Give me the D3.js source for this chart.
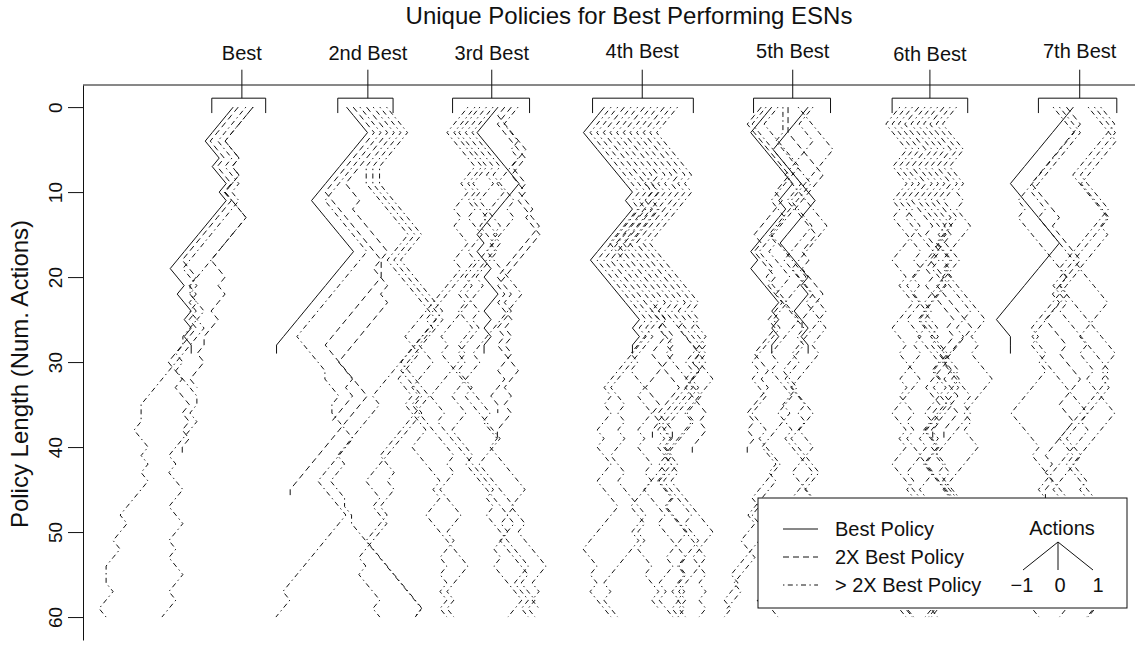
<!DOCTYPE html>
<html>
<head>
<meta charset="utf-8">
<script src="https://cdn.jsdelivr.net/npm/d3@7"></script>
<style>
  body { margin: 0; background: #fff; }
  svg { display: block; font-family: "Liberation Sans", Arial, Helvetica, sans-serif; }
</style>
</head>
<body>
<svg id="chart" width="1138" height="646"></svg>
<script>
// ---- data -------------------------------------------------------------
// Each policy: [start offset from group centre, policy class, action sequence]
// Actions: L = -1, S = 0, R = +1 (one action per step down the page).
const groupNames   = ["Best", "2nd Best", "3rd Best", "4th Best", "5th Best", "6th Best", "7th Best"];
const groupCenters = [22.7, 40.7, 58.4, 79.9, 101.4, 121.0, 142.4];
const bracketLeft  = [-4.3, -4.3, -5.6, -7.1, -5.6, -5.4, -5.9];
const bracketRight = [3.4, 3.6, 5.4, 7.3, 5.4, 5.4, 5.3];
const labelBaseline = [60, 60, 60, 58, 58, 61, 58];
const yTicks = [0, 10, 20, 30, 40, 50, 60];
const MAX_ACTIONS = 60;

const policiesBest = [
  [-1.24, "best",   "LLLL RR L RR L R LLLLLLLL RR L RR L R L R S"],
  [-0.52, "double", "LLLL RR L RR L R LLLLLLL RR L R L R L R LLLL RR L RR L R L R L S"],
  [ 1.6,  "double", "LLLL RR L R LL RRR LLLLL RR L R LL R LL S L R L L R"],
  [ 1.6,  "over",   "LLLL RR L R LL RRR LLLLLLLL S RR L R L LLLLLLLL SS L RR L R L R LLLL R LL R LL SS R LL R"],
  [ 0.57, "over",   "LLLL RR L RR L R LLLLLLLL RR L R L R LL S L R L RRR S L R LL L L R L RR LL RR LL R L RR LL R LL"]
];
const policies2nd = [
  [-3.05, "best",   "RRR LLLLLLLL RRRRRR LLLLLLLLLLL S"],
  [-2.1,  "double", "RRR LLLLLLL RRRRRRRR SS LLLLLLLL RRRRRR LLLLLLLLLLL S"],
  [-1.14, "over",   "RRR LLLLLLLL RRRRRR LLLLLLLLLL RRRR S RR L S RRR LLLLL RRRR LLLLLLLLL R LL"],
  [-0.19, "double", "RRR LLLLLL RR L RRRRR LL RR L R LLLLLLL RR L R LLL"],
  [ 0.76, "over",   "RRR LLLL SS RRRRRR LLL RRRRRRR LLLLL RRRR LLLLLLL RR L R LL R LLL RRRRRRRR L"],
  [ 1.71, "over",   "RRR LLLL SS RRRRRR LLL RRRRRRR LLLLLL RRR L R LLLLLLLL RR L RR LLLL R L RRR L R"],
  [ 2.67, "over",   "RRR LLLL SS RRRRRR LLL RRRRRR LLLLLLLLLL R L LLLLL R L L R R S R S R RRRRRRRRR L"]
];
const policies3rd = [
  [ 0.9,  "best",   "LLL RRRRRR LLLLLL R L RR L RR L L R L R L S"],
  [ 1.86, "double", "L RRRR LL RR L RR L RR LLLLLL R L RR L R L R L L R LL R S"],
  [ 2.8,  "double", "LL RRRR LL RR L RRR LLLLLL RR L R LL R L R RR L L R L R L L S"],
  [-3.4,  "over",   "LLL RRRR LL R LL R L RR LL R LL LLLL LL RR LLL RR L RRR LL RRRR L R LL RRRR RR LLL R L R"],
  [-2.4,  "over",   "LLL RRRR LL R L R L RR LL R L LLLLLL R LL RR LLL R L RRRRRR L R LL RRR L L R LL R L R L R L R"],
  [-1.7,  "over",   "LLL RRRR L L R L RR L RR L R RRRR LLLLLL L R L LLL RR LL RRR L RRRRRR L R LL R L RRRR LL"],
  [-0.76, "over",   "LLL RRRR L R LL RR R L R LLLLLL R L RR LL R LLLLL RR L RRRRRRRR L R L RRRRRR LL RR L R"],
  [ 0.19, "over",   "LLL RRRR L RRR L R LLLLLL L R L RR L R LLL R L RR L RRRRR LLL RRRRR L R LL RRRR L RR L R"],
  [ 3.76, "over",   "LL RR L R L LL R L LL RR L R L L L R L LLLLL R L RRRRRRR L RR L R RRRR LL RR L RRRR L L R L R"]
];
const policies4th = [
  [-5.4,  "best",   "LLL RRRRRRR L R L LLLLL RRRRRRR L R L S"],
  [-4.45, "over",   "LLL RRRRRRR L R L LLLLL RRRRRRR L R LLLLLL R L R LL R L RR LL R RR LLLLL RR L R L RRR"],
  [-3.5,  "over",   "LLL RRRRRRR L R L LLLLL RRRRRRR L R LLLLLL RR L R L R LL RR L RRRR LL R L LLLL R L RR"],
  [-2.55, "double", "LLL RRRRRRR L R L LLLLL RRRRRRR RR L R LLLL RR L R L S"],
  [-1.6,  "over",   "LLL RRRRRRR L R L LLLLL RRRRRRR L RR L R RRRR LL R L LLLL R L RR L R RR LLL R LL R L RR"],
  [-0.65, "over",   "LLL RRRRR L R LLLLLL RRRRRRR L R LLLL R L RR L RR LL R L RR L R LLL RR L R L R R L RR L R"],
  [ 0.3,  "double", "LLL RRRRR L R LLLLLL RRRRRRR L R L R LL RRRR LLL RR S"],
  [ 1.25, "over",   "LLL RRRRR L R LLLLLL RRRRRRR L R RRRR L R LLLLLL RR L R L LLL R RR L RRRR L R LL R L R"],
  [ 2.2,  "over",   "LLL RRRRR L R LLLLLL RRRRRRR L R RRR LL R L R LLLLL R L RR LL RR L RRRRR L R L LL R L R"],
  [ 3.15, "double", "LLL RRRRR L R LLLLLL RRRRRRR L R L R RR L R LL RRR L R LL S"],
  [ 4.1,  "over",   "LLL RRRRR L R LLLLLL RRRRRRR L R RR L R L RR LLLL R L LLL RR L R RRRRR LL R L R L R L R L"],
  [ 5.05, "over",   "LLL RRRRR L R LLLLLL RRRRRRR L R L R R L R LL R L LLLL R L RR LL RRRR L RR LLL R L R L R L"]
];
const policies5th = [
  [-3.0,  "best",   "LLL RRRRRR LL R LLLLL R L RRRR L R L R L S"],
  [ 2.2,  "best",   "LLLLL RRRRRR LLLLL RRRR L R L L R R L R S"],
  [-4.5,  "double", "LL RRRRRR LL R LLLL R L RR R L RR L L R L LL RR L R L LL R L R L S"],
  [-3.8,  "over",   "LL RRRRRRR L L R LLLLL R R L R R R L L R L L L L R L R R L L R R L R R R L L L L R L R R L L L L L R L L R L"],
  [-2.1,  "over",   "L L R R R R R L L L L R R L L R R R R R L L L R R L L L L R L R R R L L R R L R R R R L L L R L L L R L R R L L L R L R"],
  [-1.4,  "over",   "S S S L R R R R R L L L L L L R L R R R L L R R R R L R L L L R R L L R L L L L R R L R L L L L R L L R R L L L R L L"],
  [-0.67, "double", "S S S R R R R R L L L L R R R L L R L R R R L L L S"],
  [ 0.76, "over",   "R R R R R L L L L L L R R R L L L L R R R R R R L R L L R L L L L R R L R L L R R R R L L R L L L L L R L R R L L L"],
  [ 2.9,  "over",   "L L R R L L L L R R R R R R L L L L L R R R L R R L L L L R L L R R R R L L R R L L L R R R L L L L L L L R L R L L R"]
];
const policies6th = [
  [-4.3,  "over",   "LL RRR LL RR LL R L RRRR L R LL RR LL RR L R LLL R L RR L R L RR LL R L RR LL RR L R LLL RR L R"],
  [-3.4,  "over",   "LL RRR LL RR LL RRR LLLL RR L RR LLL RR L R RR LLLL RR L R LL RRRR LL R L L RRR LLL R L RR LL RR L R"],
  [-2.5,  "over",   "LL RRR LL RR LL R L RRRR LLL R L RR L RRRR LL R L RR LLLL R L RR LL R L RRR L R LL R L LLL RR L R"],
  [-1.6,  "double", "LL RRR LL RR LL RRR L RR LL R L RRRR L R LL R LLL RR L R L S"],
  [-0.7,  "over",   "LL RRR LL RR LL RRRR LL R L RR LLLL R L RRR L RR LLL R L RR LL RRRR L R LLLLL R L RR L R L R LL R"],
  [ 0.2,  "over",   "LL RRR LL RR LL RRR L RRR LLLLL R L RR L RRRR LL R LLL R L RR L RRRR L R LL R L LLLL RR L R L"],
  [ 1.1,  "over",   "LL RRR LL RR LL RRR LL RR L R LLLL RR L RRRR L R LLLLL RR LL R RRR L R LLL R L RR LL R L R L"],
  [ 2.0,  "double", "LL RRR LL RR LL RR L R LLL RR L RRRRR LLLL R L RR L R L L S"],
  [ 2.9,  "over",   "LL RRR LL RR LL RR LLL RR L RRRRRR LL R L RRR LLLL R L RR LLLLL R L RR L R LLLL R L R L"],
  [ 3.8,  "over",   "LL RRR LL RR L R L RR LLLL R L RRRR LL R LLL RRRR L R LLLLL RR L R RR L R LLL R L LL R L R L R"]
];
const policies7th = [
  [-3.8,  "over",   "RRR LLLLLLLL R L RRRRRRR L R LLLLL RR L R LLLLL RRRR L RRRRRR LL R L LLLLL RR L R L R RR LL R"],
  [-2.9,  "over",   "RRR LLLLLLL RR L RRRRRR LLLLLLL R L RRRRRRRR LLL R L LLLL RR LL RRRRRR L R LLLLLL R L R"],
  [-1.9,  "double", "RR L LLLLLL RRRR L RRRR LLLL R L L R RR L R RR L LL RR L LLL R L R L S"],
  [-0.9,  "best",   "LLLLLLLLL RRRRRRR LLLLLLLLL RR SS"],
  [ 1.2,  "over",   "RRRR LLLLL RRRR LLLLLLLL RR L RRRRRRR L R LLLL R L L R LLLL RRRR L RRR LL RR L R L L R R"],
  [ 2.1,  "over",   "RRR LLLLL RRRR LLLLLLL R L RRRRRRRR LL R L LLLLLL RR L R RRRRR LLLL R L R RR L R"],
  [ 3.0,  "over",   "RR LLLLLL RRRRR L R LLLL RRRR LLLL R L RR L RRRR LLLLLL RR L RR LLL R L RR L RR L R L R"]
];
const groupPolicies = [policiesBest, policies2nd, policies3rd, policies4th, policies5th, policies6th, policies7th];

const legendLabels = ["Best Policy", "2X Best Policy", "> 2X Best Policy"];
const legendKinds  = ["best", "double", "over"];
const actionValues = [-1, 0, 1];

// ---- drawing -----------------------------------------------------------
const svg = d3.select("#chart");
const FONT = '"Liberation Sans", Arial, Helvetica, sans-serif';
const INK = "#111";

const x = d3.scaleLinear().domain([0, 150.3]).range([83, 1135]);
const y = d3.scaleLinear().domain([-2.6, 62.7]).range([85, 640]);

const dashFor = { best: null, double: "6,4", over: "1.4,3.4,5,3.4" };

// Title
svg.append("text")
  .attr("x", 629).attr("y", 24)
  .attr("text-anchor", "middle")
  .attr("font-size", 24).attr("fill", INK)
  .text("Unique Policies for Best Performing ESNs");

// Y axis (policy length, increasing downwards)
const yAxisG = svg.append("g")
  .attr("transform", `translate(${x.range()[0]},0)`)
  .call(d3.axisLeft(y).tickValues(yTicks).tickSize(15).tickSizeOuter(0).tickFormat(d3.format("d")));
yAxisG.select(".domain").attr("stroke", INK);
yAxisG.selectAll(".tick line").attr("stroke", INK);
yAxisG.selectAll(".tick text")
  .attr("transform", "rotate(-90)")
  .attr("x", 0).attr("y", -21).attr("dy", 0)
  .attr("text-anchor", "middle")
  .attr("font-size", 19).attr("font-family", FONT).attr("fill", INK);

svg.append("text")
  .attr("transform", `translate(28,${374}) rotate(-90)`)
  .attr("text-anchor", "middle")
  .attr("font-size", 24).attr("fill", INK)
  .text("Policy Length (Num. Actions)");

// Top axis with one tick and bracket per ranked network
const topY = y(y.domain()[0]);
svg.append("line")
  .attr("x1", x.range()[0]).attr("x2", x.range()[1])
  .attr("y1", topY).attr("y2", topY)
  .attr("stroke", INK);

const groups = svg.append("g").selectAll("g")
  .data(groupNames.map((name, i) => ({ name, i })))
  .join("g");

groups.append("line")
  .attr("x1", d => x(groupCenters[d.i])).attr("x2", d => x(groupCenters[d.i]))
  .attr("y1", y(-4.4)).attr("y2", y(-1.05))
  .attr("stroke", INK);

groups.append("path")
  .attr("fill", "none").attr("stroke", INK)
  .attr("d", d => {
    const l = x(groupCenters[d.i] + bracketLeft[d.i]);
    const r = x(groupCenters[d.i] + bracketRight[d.i]);
    const t = y(-1.05), b = y(0.7);
    return `M${l},${b}V${t}H${r}V${b}`;
  });

groups.append("text")
  .attr("x", d => x(groupCenters[d.i]))
  .attr("y", d => labelBaseline[d.i])
  .attr("text-anchor", "middle")
  .attr("font-size", 20).attr("fill", INK)
  .text(d => d.name);

// Policy traces
const toActions = s => s.replace(/\s+/g, "").split("")
  .map(c => (c === "L" ? -1 : c === "R" ? 1 : 0))
  .slice(0, MAX_ACTIONS);

const traces = [];
groupPolicies.forEach((list, gi) => {
  list.forEach(([start, kind, seq]) => {
    const acts = toActions(seq);
    const pts = [[groupCenters[gi] + start, 0]];
    let pos = groupCenters[gi] + start;
    acts.forEach((a, k) => { pos += a; pts.push([pos, k + 1]); });
    traces.push({ kind, pts });
  });
});

const line = d3.line().x(p => x(p[0])).y(p => y(p[1]));

svg.append("g").selectAll("path")
  .data(traces)
  .join("path")
  .attr("d", d => line(d.pts))
  .attr("fill", "none")
  .attr("stroke", INK)
  .attr("stroke-width", 1)
  .attr("stroke-dasharray", d => dashFor[d.kind]);

// Legend
const lg = svg.append("g");
lg.append("rect")
  .attr("x", 758).attr("y", 498).attr("width", 369).attr("height", 110)
  .attr("fill", "#fff").attr("stroke", INK);

const rowY = [529, 557, 585];
legendLabels.forEach((lab, i) => {
  lg.append("line")
    .attr("x1", 783).attr("x2", 818)
    .attr("y1", rowY[i]).attr("y2", rowY[i])
    .attr("stroke", INK)
    .attr("stroke-dasharray", dashFor[legendKinds[i]]);
  lg.append("text")
    .attr("x", 835).attr("y", rowY[i] + 7)
    .attr("font-size", 20).attr("fill", INK)
    .text(lab);
});

lg.append("text")
  .attr("x", 1062).attr("y", 535)
  .attr("text-anchor", "middle")
  .attr("font-size", 20).attr("fill", INK)
  .text("Actions");

const apex = [1058, 542];
actionValues.forEach(a => {
  lg.append("line")
    .attr("x1", apex[0]).attr("y1", apex[1])
    .attr("x2", apex[0] + a * 35).attr("y2", 570)
    .attr("stroke", INK);
  lg.append("text")
    .attr("x", 1060 + a * 38).attr("y", 592)
    .attr("text-anchor", "middle")
    .attr("font-size", 20).attr("fill", INK)
    .text(d3.format("d")(a));
});
</script>
</body>
</html>
